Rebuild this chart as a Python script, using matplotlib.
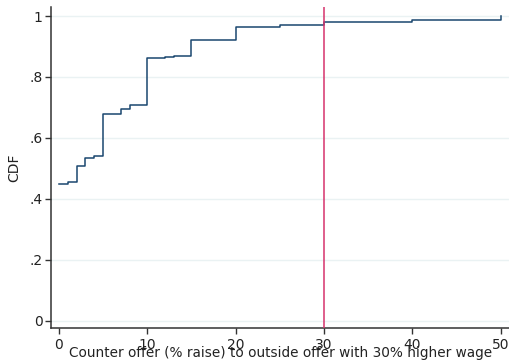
import matplotlib
matplotlib.use("Agg")
import matplotlib.pyplot as plt

offer = [0, 1, 2, 3, 4, 5, 7, 8, 10, 12, 13, 15, 20, 25, 30, 40, 50]
cdf = [0.448, 0.455, 0.508, 0.535, 0.541, 0.680, 0.694, 0.708, 0.861, 0.866,
       0.869, 0.922, 0.965, 0.970, 0.982, 0.988, 1.0]
xticks = [0, 10, 20, 30, 40, 50]
yticks = [0, 0.2, 0.4, 0.6, 0.8, 1.0]
ylabels = ["0", ".2", ".4", ".6", ".8", "1"]
ref_line = 30

plt.rcParams['font.family'] = ['DejaVu Sans']
fig = plt.figure(figsize=(5.10, 3.63), dpi=100)
ax = fig.add_axes([0.1, 0.097, 0.9, 0.884])

for yv in yticks:
    ax.axhline(yv, color='#eaf2f3', lw=1.0, zorder=0)
ax.step(offer, cdf, where='post', color='#1a476f', lw=1.1, zorder=2)
ax.axvline(ref_line, color='#d6336c', lw=1.1, zorder=3)

ax.set_xlim(-0.9, 51.07)
ax.set_ylim(-0.023, 1.03)
ax.set_xticks(xticks)
ax.set_xticklabels([str(v) for v in xticks])
ax.set_yticks(yticks)
ax.set_yticklabels(ylabels)
for s in ['top', 'right']:
    ax.spines[s].set_visible(False)
for s in ['left', 'bottom']:
    ax.spines[s].set_color('#333333')
    ax.spines[s].set_linewidth(1.1)
ax.tick_params(axis='both', direction='out', length=4, width=1.0, color='#333333',
               labelsize=10, labelcolor='#222222')
ax.tick_params(axis='x', pad=3)
ax.tick_params(axis='y', pad=2)
ax.set_xlabel('Counter offer (% raise) to outside offer with 30% higher wage',
              fontsize=9.8, color='#222222', labelpad=-4)
ax.set_ylabel('CDF', fontsize=10, color='#222222', labelpad=6)

fig.savefig('out.png', dpi=100)
